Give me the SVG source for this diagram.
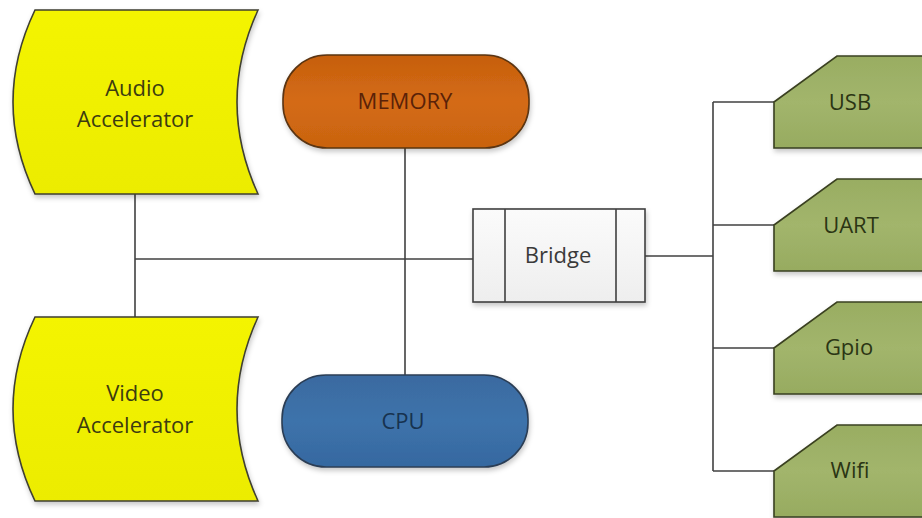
<svg xmlns="http://www.w3.org/2000/svg" width="922" height="518" viewBox="0 0 922 518">
  <defs>
    <filter id="shadow" x="-10%" y="-10%" width="120%" height="130%">
      <feDropShadow dx="1" dy="3" stdDeviation="2.5" flood-color="#000" flood-opacity="0.22"/>
    </filter>
    <linearGradient id="gYellow" x1="0" y1="0" x2="0" y2="1">
      <stop offset="0" stop-color="#f4f400"/>
      <stop offset="1" stop-color="#ecec00"/>
    </linearGradient>
    <linearGradient id="gOrange" x1="0" y1="0" x2="0" y2="1">
      <stop offset="0" stop-color="#c65f0f"/>
      <stop offset="0.5" stop-color="#d46b14"/>
      <stop offset="1" stop-color="#c96310"/>
    </linearGradient>
    <linearGradient id="gBlue" x1="0" y1="0" x2="0" y2="1">
      <stop offset="0" stop-color="#3a6aa0"/>
      <stop offset="0.5" stop-color="#3e73ab"/>
      <stop offset="1" stop-color="#3568a0"/>
    </linearGradient>
    <linearGradient id="gGreen" x1="0" y1="0" x2="0" y2="1">
      <stop offset="0" stop-color="#99ad62"/>
      <stop offset="0.5" stop-color="#a2b56c"/>
      <stop offset="1" stop-color="#97ab60"/>
    </linearGradient>
    <linearGradient id="gWhite" x1="0" y1="0" x2="0" y2="1">
      <stop offset="0" stop-color="#fbfbfb"/>
      <stop offset="1" stop-color="#eeeeee"/>
    </linearGradient>
  </defs>
  <style>
    .edge { fill: none; stroke: #404040; stroke-width: 1.6; }
    .shape { stroke: #3f3f30; stroke-width: 1.6; filter: url(#shadow); }
    .label { font-family: "Open Sans", "Noto Sans", "DejaVu Sans", sans-serif; font-size: 22px; text-anchor: middle; }
    .acc { fill: url(#gYellow); }
    .acc-t { fill: #3c3c10; }
    .mem { fill: url(#gOrange); stroke: #5a3412; }
    .mem-t { fill: #5a2208; }
    .cpu { fill: url(#gBlue); stroke: #2c3e55; }
    .cpu-t { fill: #17324f; }
    .io { fill: url(#gGreen); stroke: #3a4020; }
    .io-t { fill: #2b3514; }
    .br { fill: url(#gWhite); stroke: #404040; }
    .br-t { fill: #3a3a3a; }
  </style>

  <rect width="922" height="518" fill="#ffffff"/>

  <!-- connectors -->
  <g id="connectors">
    <path class="edge" d="M135,194 V317"/>
    <path class="edge" d="M135,259 H473"/>
    <path class="edge" d="M405,148 V375"/>
    <path class="edge" d="M645,256 H713"/>
    <path class="edge" d="M713,102 V471"/>
    <path class="edge" d="M713,102 H774"/>
    <path class="edge" d="M713,225 H774"/>
    <path class="edge" d="M713,348 H774"/>
    <path class="edge" d="M713,471 H774"/>
  </g>

  <!-- accelerators -->
  <g id="audio">
    <path class="shape acc" d="M35,10 L258,10 Q216,102 258,194 L35,194 Q-9,102 35,10 Z"/>
    <text class="label acc-t" x="135" y="96">Audio</text>
    <text class="label acc-t" x="135" y="127">Accelerator</text>
  </g>
  <g id="video">
    <path class="shape acc" d="M35,317 L258,317 Q216,409 258,501 L35,501 Q-9,409 35,317 Z"/>
    <text class="label acc-t" x="135" y="401">Video</text>
    <text class="label acc-t" x="135" y="433">Accelerator</text>
  </g>

  <!-- memory and cpu -->
  <g id="memory">
    <rect class="shape mem" x="283" y="55" width="246" height="93" rx="44" ry="44"/>
    <text class="label mem-t" x="405" y="109" font-size="23">MEMORY</text>
  </g>
  <g id="cpu">
    <rect class="shape cpu" x="282" y="375" width="246" height="92" rx="44" ry="44"/>
    <text class="label cpu-t" x="403" y="429">CPU</text>
  </g>

  <!-- bridge -->
  <g id="bridge">
    <rect class="shape br" x="473" y="209" width="172" height="93"/>
    <path class="edge" d="M505,209 V302 M616,209 V302"/>
    <text class="label br-t" x="558" y="263">Bridge</text>
  </g>

  <!-- peripherals -->
  <g id="usb">
    <path class="shape io" d="M774,102 L837,56 L930,56 L930,148 L774,148 Z"/>
    <text class="label io-t" x="850" y="110">USB</text>
  </g>
  <g id="uart">
    <path class="shape io" d="M774,225 L837,179 L930,179 L930,271 L774,271 Z"/>
    <text class="label io-t" x="851" y="233">UART</text>
  </g>
  <g id="gpio">
    <path class="shape io" d="M774,348 L837,302 L930,302 L930,394 L774,394 Z"/>
    <text class="label io-t" x="849" y="355">Gpio</text>
  </g>
  <g id="wifi">
    <path class="shape io" d="M774,471 L837,425 L930,425 L930,517 L774,517 Z"/>
    <text class="label io-t" x="850" y="478">Wifi</text>
  </g>
</svg>
